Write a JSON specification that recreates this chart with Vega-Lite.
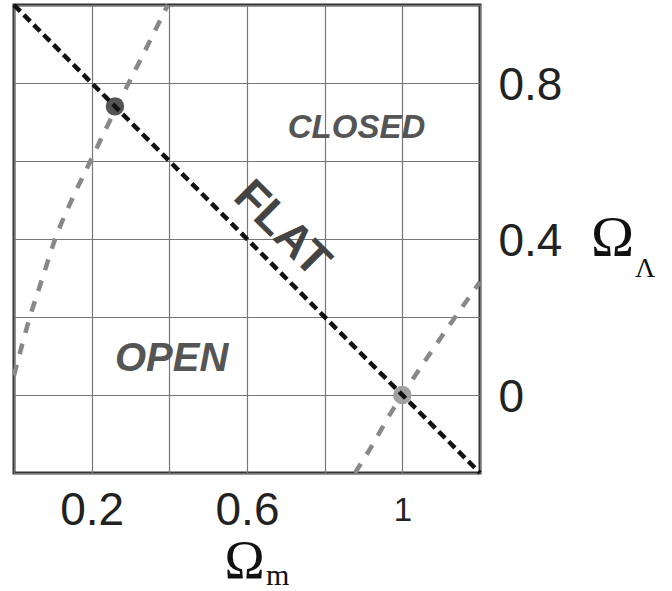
{
  "$schema": "https://vega.github.io/schema/vega-lite/v6.json",
  "width": 466,
  "height": 468,
  "autosize": {"type": "none"},
  "padding": {"left": 14, "top": 5, "right": 192, "bottom": 118},
  "background": "white",
  "config": {
    "view": {"stroke": "#333333", "strokeWidth": 3},
    "font": "Liberation Sans"
  },
  "datasets": {
    "curves": [
      {"curve": "left", "om": 0.0, "ol": 0.05},
      {"curve": "left", "om": 0.041, "ol": 0.2},
      {"curve": "left", "om": 0.075, "ol": 0.305},
      {"curve": "left", "om": 0.106, "ol": 0.4},
      {"curve": "left", "om": 0.144, "ol": 0.49},
      {"curve": "left", "om": 0.196, "ol": 0.598},
      {"curve": "left", "om": 0.263, "ol": 0.736},
      {"curve": "left", "om": 0.333, "ol": 0.874},
      {"curve": "left", "om": 0.396, "ol": 1.0},
      {"curve": "right", "om": 0.878, "ol": -0.2},
      {"curve": "right", "om": 0.917, "ol": -0.138},
      {"curve": "right", "om": 0.976, "ol": -0.037},
      {"curve": "right", "om": 1.0, "ol": 0.0},
      {"curve": "right", "om": 1.118, "ol": 0.174},
      {"curve": "right", "om": 1.2, "ol": 0.29}
    ],
    "flat": [
      {"om": 0.0, "ol": 1.0},
      {"om": 1.2, "ol": -0.2}
    ],
    "models": [
      {"model": "A", "om": 0.26, "ol": 0.74},
      {"model": "B", "om": 1.0, "ol": 0.0}
    ],
    "regions": [
      {"text": "CLOSED", "om": 0.882, "ol": 0.685, "size": 33},
      {"text": "OPEN", "om": 0.406, "ol": 0.092, "size": 40}
    ],
    "flatlabel": [
      {"text": "FLAT", "om": 0.69, "ol": 0.426}
    ],
    "subL": [
      {"text": "Λ", "om": 1.625, "ol": 0.3026}
    ],
    "subm": [
      {"text": "m", "om": 0.679, "ol": -0.487}
    ]
  },
  "layer": [
    {
      "data": {"name": "curves"},
      "mark": {"type": "line", "stroke": "#888888", "strokeWidth": 4.5, "strokeDash": [11, 11], "interpolate": "monotone"},
      "encoding": {
        "x": {
          "field": "om", "type": "quantitative",
          "scale": {"domain": [0, 1.2], "nice": false, "zero": false},
          "axis": {
            "values": [0, 0.2, 0.4, 0.6, 0.8, 1, 1.2],
            "labelExpr": "datum.value == 0.2 ? '0.2' : datum.value == 0.6 ? '0.6' : datum.value == 1 ? '1' : ''",
            "labelFontSize": {"expr": "datum.value == 1 ? 33 : 46"},
            "labelFont": "Liberation Sans",
            "labelColor": "#222222",
            "labelBaseline": "middle",
            "labelPadding": 37,
            "labelOverlap": false,
            "labelBound": false,
            "labelFlush": false,
            "ticks": false,
            "tickSize": 0,
            "domain": false,
            "grid": true,
            "gridColor": "#777777",
            "gridWidth": 1.2,
            "title": "Ω",
            "titleFont": "Liberation Serif",
            "titleFontSize": 54,
            "titleFontWeight": "normal",
            "titleColor": "#111111",
            "titleBaseline": "alphabetic",
            "titleAlign": "center",
            "titleX": 230,
            "titleY": 104
          }
        },
        "y": {
          "field": "ol", "type": "quantitative",
          "scale": {"domain": [-0.2, 1.0], "nice": false, "zero": false},
          "axis": {
            "orient": "right",
            "values": [-0.2, 0, 0.2, 0.4, 0.6, 0.8, 1.0],
            "labelExpr": "datum.value == 0 ? '0' : datum.value == 0.4 ? '0.4' : datum.value == 0.8 ? '0.8' : ''",
            "labelFontSize": 46,
            "labelFont": "Liberation Sans",
            "labelColor": "#222222",
            "labelAlign": "left",
            "labelBaseline": "middle",
            "labelPadding": 18,
            "labelOffset": 2,
            "labelOverlap": false,
            "labelBound": false,
            "labelFlush": false,
            "ticks": false,
            "tickSize": 0,
            "domain": false,
            "grid": true,
            "gridColor": "#777777",
            "gridWidth": 1.2,
            "title": "Ω",
            "titleFont": "Liberation Serif",
            "titleFontSize": 58,
            "titleFontWeight": "normal",
            "titleColor": "#111111",
            "titleAngle": 0,
            "titleBaseline": "alphabetic",
            "titleAlign": "center",
            "titleX": 132,
            "titleY": 250
          }
        },
        "detail": {"field": "curve", "type": "nominal"}
      }
    },
    {
      "data": {"name": "models"},
      "mark": {"type": "circle", "opacity": 1, "size": 340},
      "encoding": {
        "x": {"field": "om", "type": "quantitative"},
        "y": {"field": "ol", "type": "quantitative"},
        "color": {"field": "model", "type": "nominal", "scale": {"range": ["#555555", "#a0a0a0"]}, "legend": null}
      }
    },
    {
      "data": {"name": "flat"},
      "mark": {"type": "line", "stroke": "#111111", "strokeWidth": 4.5, "strokeDash": [9, 5]},
      "encoding": {
        "x": {"field": "om", "type": "quantitative"},
        "y": {"field": "ol", "type": "quantitative"}
      }
    },
    {
      "data": {"name": "regions"},
      "mark": {"type": "text", "font": "Liberation Sans", "fontWeight": "bold", "fontStyle": "italic", "color": "#555555", "align": "center", "baseline": "middle"},
      "encoding": {
        "x": {"field": "om", "type": "quantitative"},
        "y": {"field": "ol", "type": "quantitative"},
        "text": {"field": "text", "type": "nominal"},
        "size": {"field": "size", "type": "quantitative", "scale": null}
      }
    },
    {
      "data": {"name": "flatlabel"},
      "mark": {"type": "text", "font": "Liberation Sans", "fontWeight": "bold", "fontSize": 46, "angle": 45, "color": "#444444", "align": "center", "baseline": "middle"},
      "encoding": {
        "x": {"field": "om", "type": "quantitative"},
        "y": {"field": "ol", "type": "quantitative"},
        "text": {"field": "text", "type": "nominal"}
      }
    },
    {
      "data": {"name": "subL"},
      "mark": {"type": "text", "font": "Liberation Serif", "fontSize": 28, "color": "#111111", "align": "center", "baseline": "alphabetic"},
      "encoding": {
        "x": {"field": "om", "type": "quantitative"},
        "y": {"field": "ol", "type": "quantitative"},
        "text": {"field": "text", "type": "nominal"}
      }
    },
    {
      "data": {"name": "subm"},
      "mark": {"type": "text", "font": "Liberation Serif", "fontSize": 30, "color": "#111111", "align": "center", "baseline": "alphabetic"},
      "encoding": {
        "x": {"field": "om", "type": "quantitative"},
        "y": {"field": "ol", "type": "quantitative"},
        "text": {"field": "text", "type": "nominal"}
      }
    }
  ]
}
